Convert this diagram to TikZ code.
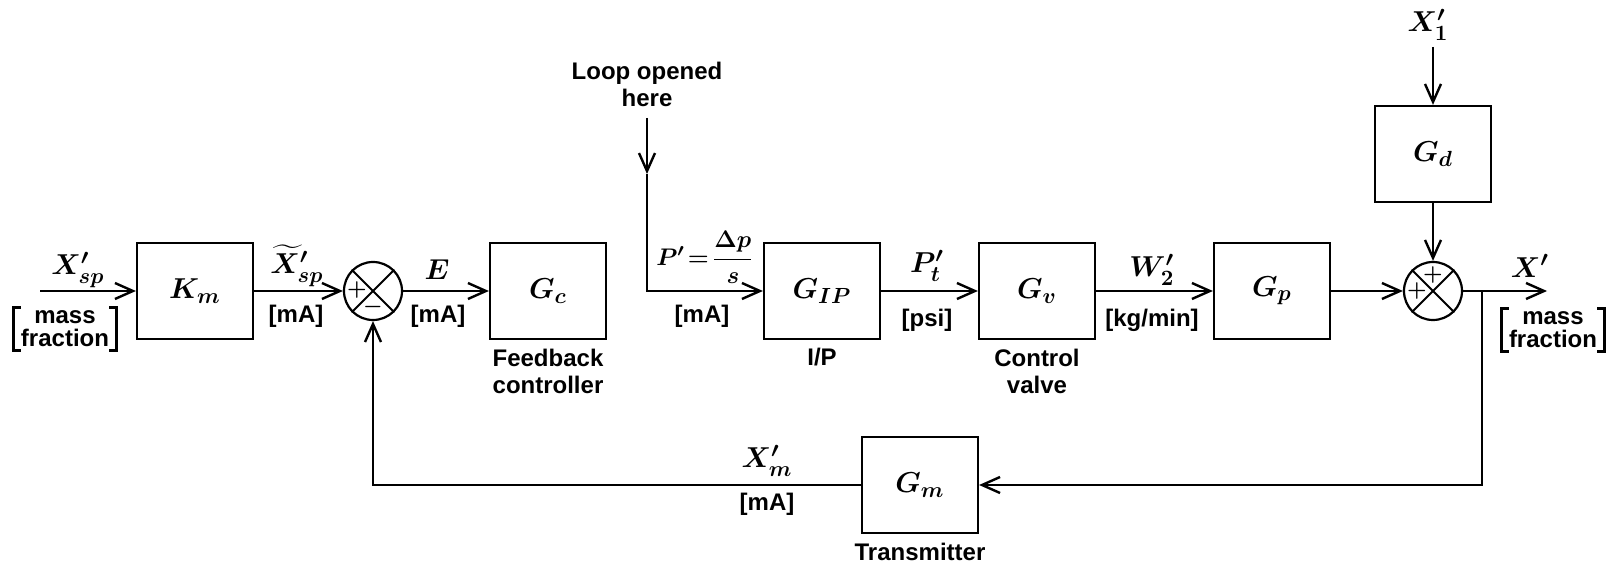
\documentclass[tikz,border=0pt]{standalone}
\usepackage[no-math]{fontspec}
\setmainfont{Liberation Sans}
\usepackage{amsmath}
\usetikzlibrary{arrows.meta,calc}
\begin{document}
\begin{tikzpicture}[x=0.5pt,y=-0.5pt,
  blk/.style={draw,line width=1.1pt,minimum width=58pt,minimum height=48pt,inner sep=0pt,font=\fontsize{15}{17}\selectfont\boldmath},
  sumj/.style={draw,circle,line width=1.1pt,minimum size=29pt,inner sep=0pt},
  lbl/.style={font=\fontsize{12}{13.5}\selectfont\bfseries,align=center,inner sep=1pt},
  brk/.style={font=\fontsize{12}{11.5}\selectfont\bfseries,align=center,inner ysep=1.5pt,inner xsep=3.5pt},
  mth/.style={font=\fontsize{15}{17}\selectfont\boldmath,inner sep=1pt},
  sgn/.style={font=\fontsize{11}{12}\selectfont\boldmath,inner sep=0pt},
  wire/.style={line width=1.3pt},
  bline/.style={line width=1.2pt},
  arr/.style={wire,-{Straight Barb[length=9pt,width=8pt,line width=1.2pt]}}]
\useasboundingbox (0,0) rectangle (1619,571);

% blocks
\node[blk] (Km) at (195,291) {$K_m$};
\node[sumj] (S1) at (373,291) {};
\node[blk] (Gc) at (548,291) {$G_c$};
\node[blk] (Gip) at (822,291) {$G_{IP}$};
\node[blk] (Gv) at (1037,291) {$G_v$};
\node[blk] (Gp) at (1272,291) {$G_p$};
\node[sumj] (S2) at (1433,291) {};
\node[blk] (Gd) at (1433,154) {$G_d$};
\node[blk] (Gm) at (920,485) {$G_m$};

% summing junction crosses and signs
\draw[line width=1pt] (S1.north west) -- (S1.south east) (S1.north east) -- (S1.south west);
\draw[line width=1pt] (S2.north west) -- (S2.south east) (S2.north east) -- (S2.south west);
\node[sgn] (s1p) at ($(S1.center)+(-16,-1)$) {$+$};
\node[sgn] (s1m) at ($(S1.center)+(0,16)$) {$-$};
\node[sgn] (s2p) at ($(S2.center)+(-16,0)$) {$+$};
\node[sgn] (s2q) at ($(S2.center)+(0,-16)$) {$+$};

% free ends
\coordinate (in) at (40,291);
\coordinate (out) at (1547,291);
\coordinate (d1) at (1433,47);
\coordinate (lo) at (647,118);
\coordinate (lom) at (647,174);
\coordinate (loc) at (647,291);
\coordinate (tap) at (1482,291);
\coordinate (fbr) at (1482,485);
\coordinate (fbl) at (373,485);

% connectors
\draw[arr] (in) -- (Km);
\draw[arr] (Km) -- (S1);
\draw[arr] (S1) -- (Gc);
\draw[arr] (lo) -- (lom);
\draw[arr] (lom) -- (loc) -- (Gip);
\draw[arr] (Gip) -- (Gv);
\draw[arr] (Gv) -- (Gp);
\draw[arr] (Gp) -- (S2);
\draw[arr] (d1) -- (Gd);
\draw[arr] (Gd) -- (S2);
\draw[arr] (S2) -- (out);
\draw[arr] (tap) -- (fbr) -- (Gm);
\draw[arr] (Gm) -- (fbl) -- (S1);

% labels
\node[mth] (lxsp) at (78,270) {$X'_{sp}$};
\node[brk] (lmf1) at (65,329) {mass\\fraction};
\draw[bline] ($(lmf1.north west)+(7,0)$) -- (lmf1.north west) -- (lmf1.south west) -- ++(7,0);
\draw[bline] ($(lmf1.north east)+(-7,0)$) -- (lmf1.north east) -- (lmf1.south east) -- ++(-7,0);
\node[mth] (lxt) at (297,266) {$\widetilde{X}'_{sp}$};
\node[lbl] (lma1) at (296,316) {[mA]};
\node[mth] (le) at (437,270) {$E$};
\node[lbl] (lma2) at (438,316) {[mA]};
\node[lbl] (lfc) at (548,371) {Feedback\\controller};
\node[lbl] (llo) at (647,84) {Loop opened\\here};
\node[mth,font=\fontsize{12.5}{15}\selectfont\boldmath] (lp) at (705,257) {$P'\mkern2mu{=}\mkern2mu\dfrac{\Delta p}{s}$};
\node[lbl] (lma3) at (702,316) {[mA]};
\node[lbl] (lip) at (822,357) {I/P};
\node[mth] (lpt) at (927,266) {$P'_t$};
\node[lbl] (lpsi) at (927,320) {[psi]};
\node[lbl] (lcv) at (1037,371) {Control\\valve};
\node[mth] (lw) at (1152,270) {$W'_2$};
\node[lbl] (lkg) at (1152,320) {[kg/min]};
\node[mth] (lx1) at (1428,25) {$X'_1$};
\node[mth] (lx) at (1530,266) {$X'$};
\node[brk] (lmf2) at (1553,330) {mass\\fraction};
\draw[bline] ($(lmf2.north west)+(7,0)$) -- (lmf2.north west) -- (lmf2.south west) -- ++(7,0);
\draw[bline] ($(lmf2.north east)+(-7,0)$) -- (lmf2.north east) -- (lmf2.south east) -- ++(-7,0);
\node[mth] (lxm) at (767,461) {$X'_m$};
\node[lbl] (lma4) at (767,504) {[mA]};
\node[lbl] (ltr) at (920,552) {Transmitter};
\end{tikzpicture}
\end{document}
